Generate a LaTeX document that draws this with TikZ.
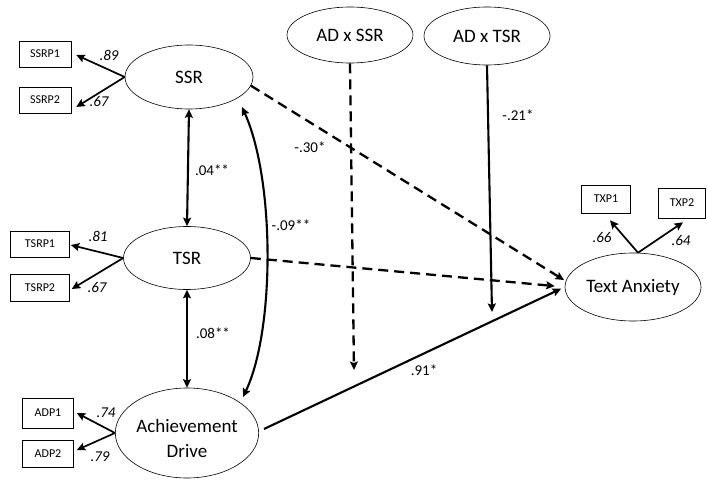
\documentclass[tikz,border=0pt]{standalone}
\usepackage{fontspec}
\setmainfont{Carlito}
\usetikzlibrary{shapes.geometric,arrows.meta,calc}
\begin{document}
\begin{tikzpicture}[x=1pt,y=-1pt,
  latent/.style={ellipse,draw,line width=0.6pt,inner sep=0pt,align=center,
    font=\fontsize{19}{25}\selectfont},
  indicator/.style={rectangle,draw,line width=0.6pt,inner sep=0pt,
    font=\fontsize{12}{14}\selectfont},
  tip/.style={-{Stealth[length=8.5pt,width=8pt,inset=1.5pt]}},
  loadarrow/.style={tip,line width=1.7pt},
  effect/.style={tip,line width=2.1pt},
  dasheffect/.style={tip,line width=2.3pt,dash pattern=on 10pt off 6pt},
  covar/.style={{Stealth[length=8.5pt,width=8pt,inset=1.5pt]}-{Stealth[length=8.5pt,width=8pt,inset=1.5pt]},line width=2.1pt},
  loadlab/.style={font=\fontsize{15}{17}\selectfont\itshape,inner sep=0pt},
  coeflab/.style={font=\fontsize{15}{17}\selectfont,inner sep=0pt}
]
\useasboundingbox (0,0) rectangle (707,481);

% latent variables
\node[latent,minimum width=128pt,minimum height=64pt] (SSR) at (189,77) {SSR};
\node[latent,minimum width=127pt,minimum height=63pt] (TSR) at (187,258) {TSR};
\node[latent,minimum width=138pt,minimum height=90pt] (AD) at (187,433) {\rule{0pt}{25pt}Achievement\\Drive};
\node[latent,minimum width=126pt,minimum height=56pt] (ADSSR) at (350,35) {AD x SSR};
\node[latent,minimum width=126pt,minimum height=58pt] (ADTSR) at (487,36) {AD x TSR};
\node[latent,minimum width=136pt,minimum height=68pt] (TA) at (633,287) {Text Anxiety};

% indicators
\node[indicator,minimum width=52pt,minimum height=26pt] (SSRP1) at (45,54) {SSRP1};
\node[indicator,minimum width=52pt,minimum height=26pt] (SSRP2) at (45,100) {SSRP2};
\node[indicator,minimum width=59pt,minimum height=26pt] (TSRP1) at (40,244) {TSRP1};
\node[indicator,minimum width=59pt,minimum height=27pt] (TSRP2) at (40,288) {TSRP2};
\node[indicator,minimum width=51pt,minimum height=30pt] (ADP1) at (48,413) {ADP1};
\node[indicator,minimum width=51pt,minimum height=27pt] (ADP2) at (48,454) {ADP2};
\node[indicator,minimum width=49pt,minimum height=28pt] (TXP1) at (606,199) {TXP1};
\node[indicator,minimum width=47pt,minimum height=30pt] (TXP2) at (682,203) {TXP2};

% loadings
\draw[loadarrow] (SSR.west) -- ($(SSRP1.east)+(5,1)$);
\draw[loadarrow] (SSR.west) -- ($(SSRP2.east)+(5,7)$);
\draw[loadarrow] (TSR.west) -- ($(TSRP1.east)+(1,1)$);
\draw[loadarrow] (TSR.west) -- ($(TSRP2.east)+(2,1)$);
\draw[loadarrow] (AD.west) -- ($(ADP1.east)+(3,0)$);
\draw[loadarrow] (AD.west) -- ($(ADP2.east)+(3,-4)$);
\draw[loadarrow] ($(TA.north)+(5,0)$) -- ($(TXP1.south)+(4,7)$);
\draw[loadarrow] ($(TA.north)+(5,0)$) -- ($(TXP2.south)+(1,4)$);

\node[loadlab] at (109,55) {.89};
\node[loadlab] at (99,101) {.67};
\node[loadlab] at (98,236) {.81};
\node[loadlab] at (97,287) {.67};
\node[loadlab] at (106,413) {.74};
\node[loadlab] at (100,457) {.79};
\node[loadlab] at (602,237) {.66};
\node[loadlab] at (681,240) {.64};

% correlations among predictors
\draw[covar] (SSR.south) -- (TSR.north);
\draw[covar] (TSR.south) -- (AD.north);
\draw[covar] ($(AD)+(56,-36)$) .. controls ($(AD)+(88,-103)$) and ($(SSR)+(86,103)$) .. ($(SSR)+(53,30)$);

% structural paths
\draw[dasheffect,shorten >=2pt] (SSR.-8) -- (TA.175);
\draw[dasheffect,shorten >=10pt] (TSR.east) -- (TA.west);
\draw[effect,shorten >=4pt] ($(AD.east)+(5,-4)$) -- (TA.west);

% moderation
\coordinate (m1) at (354,370);
\coordinate (m2) at (492,312);
\draw[dasheffect] (ADSSR.south) -- (m1);
\draw[effect] (ADTSR.south) -- (m2);

% coefficients
\node[coeflab] at (212,170) {.04**};
\node[coeflab] at (213,333) {.08**};
\node[coeflab] at (291,225) {-.09**};
\node[coeflab] at (310,147) {-.30*};
\node[coeflab] at (518,115) {-.21*};
\node[coeflab] at (424,370) {.91*};
\end{tikzpicture}
\end{document}
